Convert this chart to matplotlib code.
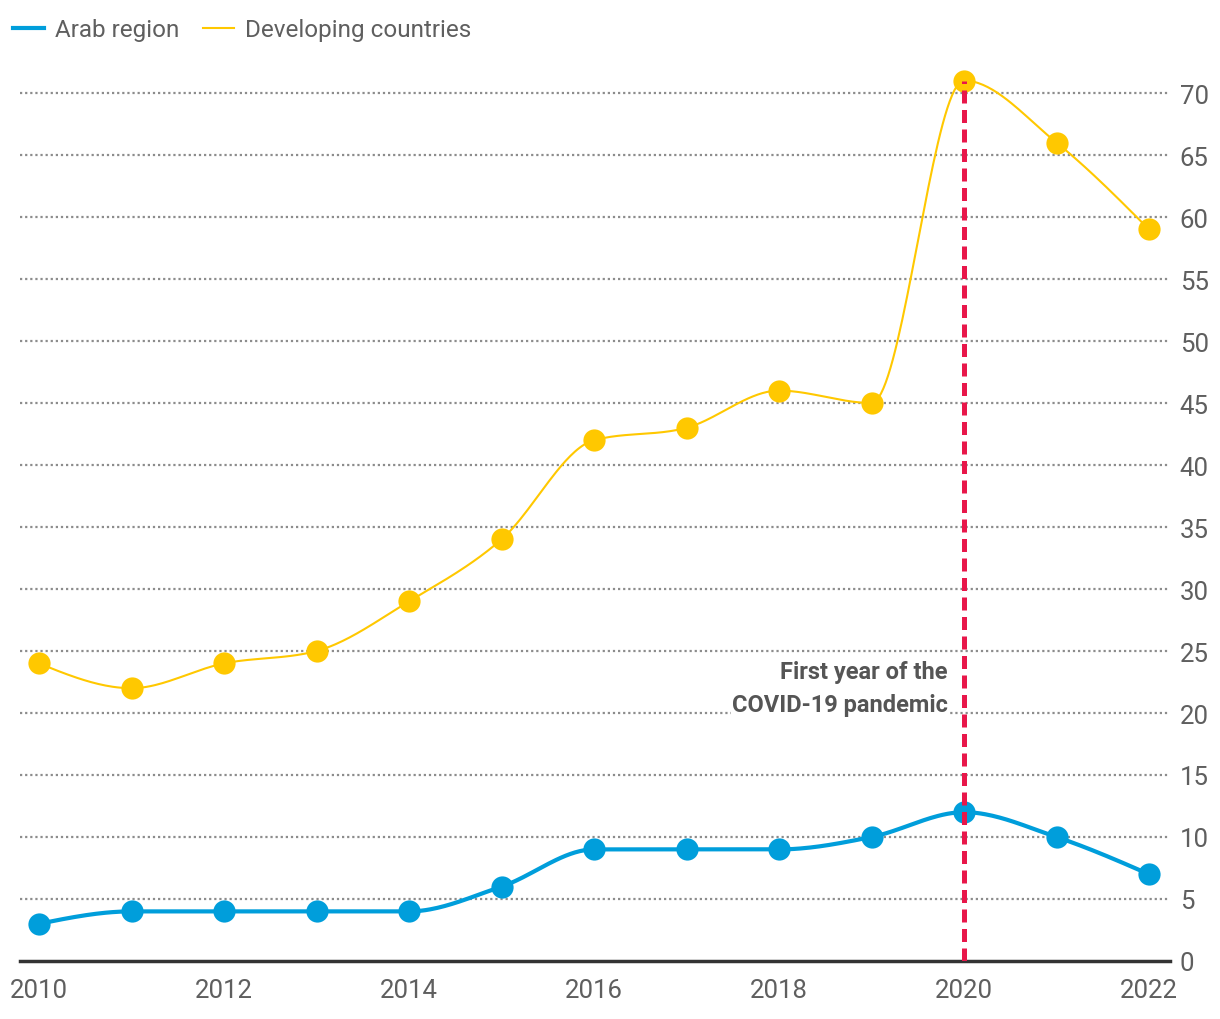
import numpy as np
import matplotlib
matplotlib.use("Agg")
import matplotlib.pyplot as plt
from matplotlib.lines import Line2D

plt.rcParams['font.family'] = ['Roboto', 'DejaVu Sans']

years = [2010, 2011, 2012, 2013, 2014, 2015, 2016, 2017, 2018, 2019, 2020, 2021, 2022]
arab = [3, 4, 4, 4, 4, 6, 9, 9, 9, 10, 12, 10, 7]
developing = [24, 22, 24, 25, 29, 34, 42, 43, 46, 45, 71, 66, 59]
series_names = ["Arab region", "Developing countries"]
covid_year = 2020
covid_label = "First year of the\nCOVID-19 pandemic"
y_ticks = list(range(0, 75, 5))
x_ticks = list(range(2010, 2023, 2))

BLUE = "#009edb"
YELLOW = "#ffc800"
RED = "#e8174a"
GRAY_TXT = "#5f5f5f"


def monotone_curve(x, y, n=40):
    x = np.asarray(x, float)
    y = np.asarray(y, float)
    h = np.diff(x)
    s = np.diff(y) / h
    m = np.zeros_like(y)
    for k in range(1, len(y) - 1):
        s0, s1 = s[k - 1], s[k]
        h0, h1 = h[k - 1], h[k]
        p = (s0 * h1 + s1 * h0) / (h0 + h1)
        m[k] = (np.sign(s0) + np.sign(s1)) * min(abs(s0), abs(s1), 0.5 * abs(p))
    m[0] = (3 * s[0] - m[1]) / 2
    m[-1] = (3 * s[-1] - m[-2]) / 2
    xs, ys = [], []
    for k in range(len(x) - 1):
        t = np.linspace(0, 1, n)
        h00 = 2 * t**3 - 3 * t**2 + 1
        h10 = t**3 - 2 * t**2 + t
        h01 = -2 * t**3 + 3 * t**2
        h11 = t**3 - t**2
        xs.append(x[k] + t * h[k])
        ys.append(h00 * y[k] + h10 * h[k] * m[k] + h01 * y[k + 1] + h11 * h[k] * m[k + 1])
    return np.concatenate(xs), np.concatenate(ys)


fig = plt.figure(figsize=(12.2, 10.2), dpi=100)
ax = fig.add_axes([20 / 1220, 58 / 1020, 1150 / 1220, 902 / 1020])

ax.set_xlim(2010 - 19 / 92.5, 2022 + 21 / 92.5)
ax.set_ylim(0, 902 / 12.4)

for v in y_ticks[1:]:
    ax.axhline(v, color="#8c8c8c", lw=1.6, ls=(0, (1, 1.3)), zorder=1)

cx, cy = monotone_curve(years, developing)
ax.plot(cx, cy, color=YELLOW, lw=1.5, zorder=3)
ax.plot(years, developing, 'o', color=YELLOW, ms=16, mew=0, zorder=4)

cx, cy = monotone_curve(years, arab)
ax.plot(cx, cy, color=BLUE, lw=3, zorder=3)
ax.plot(years, arab, 'o', color=BLUE, ms=16, mew=0, zorder=4)

ax.plot([covid_year, covid_year], [0, developing[years.index(covid_year)]],
        color=RED, lw=3.6, ls=(0, (2.6, 1.3)), zorder=5)

ax.text(covid_year - 0.175, 22.0, covid_label, ha="right", va="center",
        fontsize=17, fontweight="bold", color="#555555", linespacing=1.55, zorder=6,
        bbox=dict(facecolor="white", edgecolor="none", pad=1))

for sp in ["top", "right", "left"]:
    ax.spines[sp].set_visible(False)
ax.spines["bottom"].set_color("#333333")
ax.spines["bottom"].set_linewidth(2.5)
ax.spines["bottom"].set_zorder(2)

ax.yaxis.tick_right()
ax.set_yticks(y_ticks)
ax.set_yticklabels([str(v) for v in y_ticks])
ax.set_xticks(x_ticks)
ax.set_xticklabels([str(v) for v in x_ticks])
ax.tick_params(axis="both", length=0, labelsize=18.5, labelcolor=GRAY_TXT)
ax.tick_params(axis="y", pad=7)
ax.tick_params(axis="x", pad=12)

handles = [Line2D([0], [0], color=BLUE, lw=3),
           Line2D([0], [0], color=YELLOW, lw=1.5)]
leg = fig.legend(handles, series_names, loc="upper left", bbox_to_anchor=(0.0, 0.994),
                 frameon=False, ncol=2, fontsize=17.5, handlelength=1.25, handletextpad=0.45,
                 columnspacing=1.0, borderaxespad=0.15)
for t in leg.get_texts():
    t.set_color(GRAY_TXT)

fig.savefig("out.png", dpi=100)
